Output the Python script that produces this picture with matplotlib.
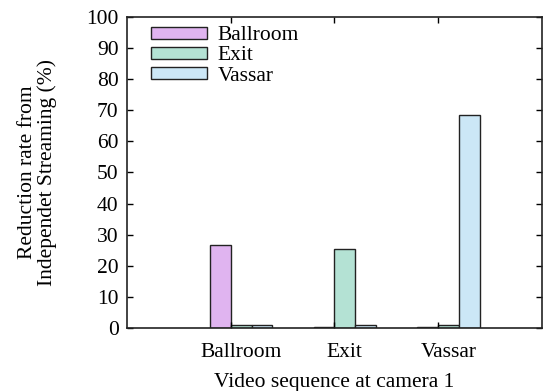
import numpy as np
import matplotlib
matplotlib.use('Agg')
from matplotlib import pyplot as plt

## Data
groups = ['Ballroom', 'Exit', 'Vassar']
series = ['Ballroom', 'Exit', 'Vassar']
ballroom_vals = [26.6, 0.3, 0.3]
exit_vals = [1.0, 25.4, 1.0]
vassar_vals = [1.0, 1.0, 68.6]
colors = ['#e0b4f0', '#b4e2d4', '#cce7f6']

plt.rcParams['font.family'] = ['Liberation Serif', 'DejaVu Serif']
fs = 15.5

fig = plt.figure(figsize=(5.43, 3.91), dpi=100)
ax = fig.add_axes([0.234, 0.161, 0.764, 0.796])

x = np.arange(len(groups))
w = 0.2
offsets = [-0.1, 0.1, 0.3]
for vals, off, c, name in zip([ballroom_vals, exit_vals, vassar_vals], offsets, colors, series):
    ax.bar(x + off, vals, w, color=c, edgecolor='#222222', linewidth=1.0, label=name)

ax.set_xlim(-1, 3)
ax.set_ylim(0, 100)
ax.set_yticks(np.arange(0, 101, 10))

## ticks at group positions, labels shifted to the middle bar
ax.set_xticks(x)
ax.set_xticklabels([])
ax.set_xticks(x + 0.1, minor=True)
ax.set_xticklabels(groups, minor=True)
ax.tick_params(axis='x', which='minor', length=0, pad=11, labelsize=fs)
ax.tick_params(axis='both', which='major', direction='in', length=4.5, width=1,
               top=True, right=True, labelsize=fs)
ax.tick_params(axis='y', pad=6)

for s in ax.spines.values():
    s.set_linewidth(1.2)
    s.set_color('#222222')

ax.set_xlabel('Video sequence at camera 1', fontsize=fs, labelpad=8)
ax.set_ylabel('Reduction rate from\nIndependet Streaming (%)', fontsize=fs, linespacing=1.05)
ax.yaxis.set_label_coords(-0.168, 0.5)

ax.legend(loc='upper left', bbox_to_anchor=(0.041, 0.99), frameon=False, fontsize=fs,
          handlelength=2.6, handleheight=0.45, handletextpad=0.5, labelspacing=0.05,
          borderaxespad=0.0, borderpad=0.3)

fig.savefig('out.png', dpi=100)
